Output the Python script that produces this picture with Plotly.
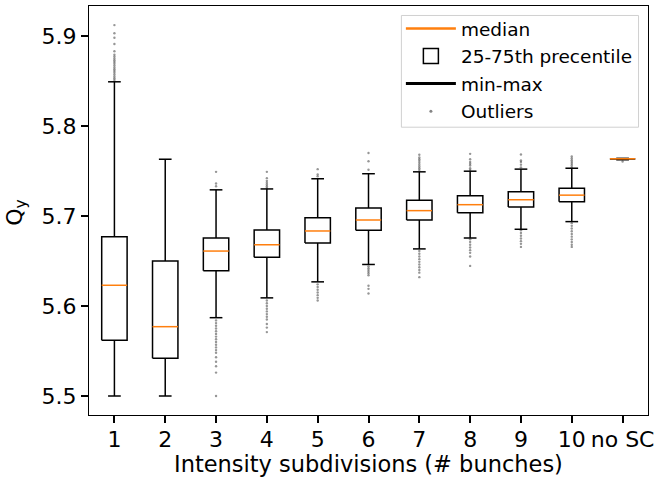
import plotly.graph_objects as go

# ---------------- data ----------------
categories = ["1", "2", "3", "4", "5", "6", "7", "8", "9", "10", "no SC"]
positions = [1, 2, 3, 4, 5, 6, 7, 8, 9, 10, 11]

q1 = [5.562, 5.542, 5.639, 5.654, 5.670, 5.684, 5.6955, 5.7036, 5.7099, 5.7158, 5.7632]
median = [5.623, 5.577, 5.661, 5.668, 5.6833, 5.6955, 5.7059, 5.7125, 5.718, 5.7231, 5.7635]
q3 = [5.677, 5.650, 5.6755, 5.6844, 5.6981, 5.7088, 5.7173, 5.7225, 5.7269, 5.7309, 5.7638]
whisker_low = [5.500, 5.500, 5.587, 5.609, 5.6268, 5.6461, 5.6634, 5.6755, 5.6852, 5.6937, 5.7624]
whisker_high = [5.849, 5.763, 5.729, 5.730, 5.7413, 5.7469, 5.749, 5.7497, 5.752, 5.753, 5.7640]

outliers = [
    [5.851, 5.853, 5.855, 5.857, 5.859, 5.861, 5.863, 5.865, 5.867, 5.869, 5.871,
     5.873, 5.875, 5.877, 5.879, 5.883, 5.891, 5.898, 5.903, 5.912],
    [],
    [5.733, 5.736, 5.749, 5.584, 5.581, 5.578, 5.575, 5.572, 5.569, 5.566, 5.563,
     5.560, 5.557, 5.554, 5.551, 5.548, 5.543, 5.538, 5.533, 5.526, 5.500],
    [5.731, 5.733, 5.735, 5.737, 5.739, 5.742, 5.749, 5.606, 5.603, 5.600, 5.597,
     5.594, 5.591, 5.588, 5.585, 5.580, 5.576, 5.571],
    [5.744, 5.746, 5.752, 5.624, 5.621, 5.618, 5.615, 5.612, 5.609, 5.606],
    [5.7513, 5.7608, 5.770, 5.644, 5.642, 5.640, 5.638, 5.636, 5.634, 5.6224, 5.619, 5.6139],
    [5.751, 5.753, 5.755, 5.757, 5.759, 5.761, 5.763, 5.765, 5.768, 5.661, 5.658,
     5.655, 5.652, 5.649, 5.646, 5.643, 5.640, 5.637, 5.632],
    [5.751, 5.753, 5.756, 5.758, 5.760, 5.763, 5.769, 5.674, 5.671, 5.668, 5.665,
     5.662, 5.659, 5.655, 5.6445],
    [5.754, 5.757, 5.760, 5.7616, 5.7682, 5.684, 5.681, 5.678, 5.675, 5.672, 5.669, 5.6656],
    [5.754, 5.756, 5.758, 5.760, 5.762, 5.764, 5.766, 5.692, 5.689, 5.686, 5.683,
     5.680, 5.677, 5.674, 5.671, 5.668, 5.6656],
    [5.7605],
]

legend_labels = ["median", "25-75th precentile", "min-max", "Outliers"]

# ---------------- geometry from data ----------------
HALF = 0.25
CAP = 0.125

bx, by, mx, my, wx, wy, ox, oy = [], [], [], [], [], [], [], []
for p, a, m, b, lo, hi, outs in zip(positions, q1, median, q3, whisker_low, whisker_high, outliers):
    bx += [p - HALF, p + HALF, p + HALF, p - HALF, p - HALF, None]
    by += [a, a, b, b, a, None]
    mx += [p - HALF, p + HALF, None]
    my += [m, m, None]
    wx += [p, p, None, p, p, None, p - CAP, p + CAP, None, p - CAP, p + CAP, None]
    wy += [a, lo, None, b, hi, None, lo, lo, None, hi, hi, None]
    ox += [p] * len(outs)
    oy += outs

fig = go.Figure()
fig.add_trace(go.Scatter(x=ox, y=oy, mode="markers", showlegend=False,
                         marker=dict(size=2.4, color="rgba(80,80,80,0.6)")))
fig.add_trace(go.Scatter(x=wx, y=wy, mode="lines", showlegend=False,
                         line=dict(color="black", width=1.5)))
fig.add_trace(go.Scatter(x=bx, y=by, mode="lines", showlegend=False,
                         line=dict(color="black", width=1.5)))
fig.add_trace(go.Scatter(x=mx, y=my, mode="lines", showlegend=False,
                         line=dict(color="#ff7f0e", width=1.5)))

# legend entries
fig.add_trace(go.Scatter(x=[None], y=[None], mode="lines", name=legend_labels[0],
                         legendgroup="a", line=dict(color="#ff7f0e", width=2.5)))
fig.add_trace(go.Scatter(x=[None], y=[None], mode="markers", name=legend_labels[1],
                         legendgroup="b",
                         marker=dict(symbol="square-open", size=15, color="black",
                                     line=dict(width=1.5))))
fig.add_trace(go.Scatter(x=[None], y=[None], mode="lines", name=legend_labels[2],
                         legendgroup="c", line=dict(color="black", width=3)))
fig.add_trace(go.Scatter(x=[None], y=[None], mode="markers", name=legend_labels[3],
                         legendgroup="d", marker=dict(size=3, color="rgba(80,80,80,0.7)")))

FONT = "DejaVu Sans"


def px_x(px):
    return (px - 89) / 561.0


def px_y(py):
    return 1 - (py - 5) / 410.0


fig.update_layout(
    width=659, height=478,
    margin=dict(l=89, r=9, t=5, b=63),
    paper_bgcolor="white", plot_bgcolor="white",
    font=dict(family=FONT, size=22, color="black"),
    showlegend=True,
    legend=dict(x=px_x(402), y=px_y(9), xanchor="left", yanchor="top",
                font=dict(family=FONT, size=18.5, color="black"),
                bgcolor="rgba(0,0,0,0)", borderwidth=0,
                tracegroupgap=0.5, itemwidth=50),
    shapes=[dict(type="rect", xref="paper", yref="paper",
                 x0=px_x(402.5), x1=px_x(640.5), y0=px_y(126.5), y1=px_y(14.5),
                 line=dict(color="#d0d0d0", width=1),
                 fillcolor="rgba(255,255,255,0.8)", layer="above")],
    xaxis=dict(range=[0.5, 11.5], tickvals=positions, ticktext=categories,
               showgrid=False, zeroline=False, showline=True, mirror=True,
               linecolor="black", linewidth=1.3, ticks="outside", ticklen=7,
               tickwidth=2.2, tickcolor="black", ticklabelstandoff=-3,
               tickfont=dict(family=FONT, size=22, color="black")),
    yaxis=dict(range=[5.4789, 5.9332], tickvals=[5.5, 5.6, 5.7, 5.8, 5.9],
               ticktext=["5.5", "5.6", "5.7", "5.8", "5.9"],
               showgrid=False, zeroline=False, showline=True, mirror=True,
               linecolor="black", linewidth=1.3, ticks="outside", ticklen=7,
               tickwidth=2.2, tickcolor="black",
               tickfont=dict(family=FONT, size=22, color="black")),
    annotations=[
        dict(text="Intensity subdivisions (# bunches)", xref="paper", yref="paper",
             x=0.5, y=px_y(464), xanchor="center", yanchor="middle", showarrow=False,
             font=dict(family=FONT, size=22.5, color="black")),
        dict(text="Q<sub>y</sub>", xref="paper", yref="paper",
             x=px_x(16), y=px_y(212), xanchor="center", yanchor="middle", showarrow=False,
             textangle=-90, font=dict(family=FONT, size=22, color="black")),
    ],
)

fig.write_html("out.html")
